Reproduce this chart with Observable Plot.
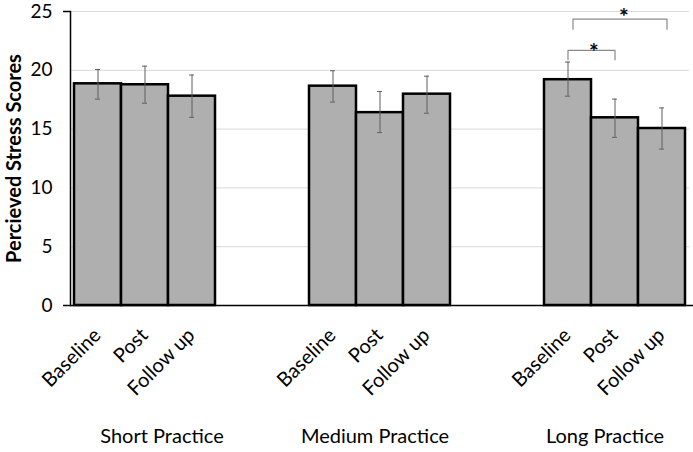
<!DOCTYPE html>
<html>
<head>
<meta charset="utf-8">
<script src="https://cdn.jsdelivr.net/npm/d3@7"></script>
<script src="https://cdn.jsdelivr.net/npm/@observablehq/plot@0.6"></script>
<style>
  html, body { margin: 0; padding: 0; background: #fff; }
  #chart svg { display: block; overflow: visible; font-family: Lato, "Open Sans", sans-serif; }
</style>
</head>
<body>
<div id="chart"></div>
<script>
// ---- data ----
const groups = ["Short Practice", "Medium Practice", "Long Practice"];
const phases = ["Baseline", "Post", "Follow up"];
const shortMeans  = [18.85, 18.77, 17.8];
const mediumMeans = [18.65, 16.4, 17.97];
const longMeans   = [19.2, 15.96, 15.05];
const shortLow  = [17.55, 17.2, 16.0];
const shortHigh = [20.07, 20.35, 19.6];
const mediumLow  = [17.3, 14.7, 16.35];
const mediumHigh = [19.96, 18.2, 19.5];
const longLow  = [17.8, 14.3, 13.3];
const longHigh = [20.7, 17.55, 16.8];
const yTicks = [0, 5, 10, 15, 20, 25];
// significance brackets (Long Practice)
const bracketGroup = ["Long Practice", "Long Practice"];
const bracketFrom = ["Baseline", "Baseline"];
const bracketTo   = ["Post", "Follow up"];
const bracketTop  = [21.7, 24.35];
const bracketFoot = [20.9, 23.5];
const bracketLabel = ["*", "*"];

// ---- build table ----
const meansByGroup = [shortMeans, mediumMeans, longMeans];
const lowByGroup = [shortLow, mediumLow, longLow];
const highByGroup = [shortHigh, mediumHigh, longHigh];
const key = (g, p) => g + "|" + p;
const data = [];
groups.forEach((g, gi) => phases.forEach((p, pi) => data.push({
  group: g, phase: p, key: key(g, p),
  mean: meansByGroup[gi][pi], low: lowByGroup[gi][pi], high: highByGroup[gi][pi]
})));
// x domain: three bars per group with two empty slots between groups
const xDomain = [];
groups.forEach((g, gi) => {
  phases.forEach(p => xDomain.push(key(g, p)));
  if (gi < groups.length - 1) { xDomain.push("gap" + gi + "a"); xDomain.push("gap" + gi + "b"); }
});

const brackets = bracketFrom.map((f, i) => [
  {x: key(bracketGroup[i], f), y: bracketFoot[i], id: i},
  {x: key(bracketGroup[i], f), y: bracketTop[i], id: i},
  {x: key(bracketGroup[i], bracketTo[i]), y: bracketTop[i], id: i},
  {x: key(bracketGroup[i], bracketTo[i]), y: bracketFoot[i], id: i}
]);
const starData = bracketFrom.map((f, i) => ({
  x1: key(bracketGroup[i], f), x2: key(bracketGroup[i], bracketTo[i]),
  y: bracketTop[i], label: bracketLabel[i], id: i
}));

const groupLabelData = groups.map(g => ({x: key(g, "Post"), label: g}));
const groupLabelShift = [17, -5, -10];

const chart = Plot.plot({
  width: 693,
  height: 452,
  marginTop: 11,
  marginBottom: 147,
  marginLeft: 70,
  marginRight: 4,
  style: {fontFamily: "Lato, 'Open Sans', sans-serif", background: "#fff", overflow: "visible"},
  x: {type: "band", domain: xDomain, padding: 0, axis: null},
  y: {domain: [0, 25], axis: null},
  marks: [
    Plot.ruleY(yTicks.filter(d => d > 0), {stroke: "#d9d9d9", strokeWidth: 1}),
    Plot.barY(data, {x: "key", y: "mean", fill: "#afafaf", stroke: "#000", strokeWidth: 2.5}),
    Plot.ruleX(data, {x: "key", y1: "low", y2: "high", stroke: "#5f5f5f", strokeWidth: 1}),
    Plot.tickY(data, {x: "key", y: "low", stroke: "#5f5f5f", strokeWidth: 1, insetLeft: 21, insetRight: 21}),
    Plot.tickY(data, {x: "key", y: "high", stroke: "#5f5f5f", strokeWidth: 1, insetLeft: 21, insetRight: 21}),
    Plot.ruleY([0], {stroke: "#000", strokeWidth: 1.5, insetLeft: -7, insetRight: -4}),
    Plot.frame({anchor: "left", stroke: "#000", strokeWidth: 1.5}),
    Plot.axisY([yTicks[yTicks.length - 1]], {tickSize: 7, stroke: "#000", strokeWidth: 1.5, text: null, label: null}),
    Plot.axisY(yTicks, {tickSize: 0, tickPadding: 18, fontSize: 19, fill: "#000", label: null}),
    // significance brackets
    ...brackets.map((b, i) => Plot.line(b, {x: "x", y: "y", stroke: "#8a8a8a", strokeWidth: 1.2, dx: i === 1 ? 5 : 0})),
    ...starData.map((s, i) => Plot.text([s], {x: "x1", y: "y", text: "label", dx: i === 0 ? 26 : 56, dy: i === 0 ? 2 : -2, fontSize: 23, fontWeight: "bold", fill: "#000"})),
    // x tick labels
    Plot.text(data, {x: "key", text: "phase", frameAnchor: "bottom", rotate: -45, textAnchor: "end", lineAnchor: "top", dx: -6, dy: 21, fontSize: 20, fill: "#000"}),
    // group labels
    ...groupLabelData.map((d, i) => Plot.text([d], {x: "x", text: "label", frameAnchor: "bottom", dy: 137, dx: groupLabelShift[i], fontSize: 20, fill: "#000"})),
    // y axis label
    Plot.text(["Percieved Stress Scores"], {frameAnchor: "left", rotate: -90, textAnchor: "middle", dx: -56, fontSize: 20, fontWeight: "bold", fill: "#000"})
  ]
});
document.getElementById("chart").appendChild(chart);
</script>
</body>
</html>
